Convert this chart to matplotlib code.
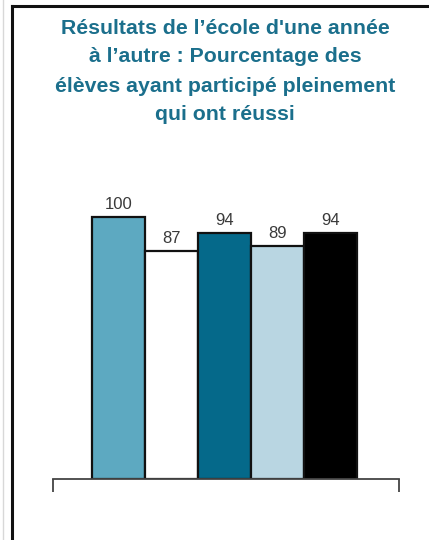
import matplotlib
matplotlib.use("Agg")
import matplotlib.pyplot as plt
from matplotlib.lines import Line2D

plt.rcParams['font.family'] = ['Liberation Sans', 'DejaVu Sans']

title_lines = ["Résultats de l’école d'une année",
               "à l’autre : Pourcentage des",
               "élèves ayant participé pleinement",
               "qui ont réussi"]
values = [100, 87, 94, 89, 94]
bar_colors = ['#5da9c1', '#ffffff', '#05698a', '#b9d6e2', '#000000']

W, H = 429, 540
fig = plt.figure(figsize=(W / 100, H / 100), dpi=100)

# frame lines (left and top) plus the faint outer rule
fig.add_artist(Line2D([11.5 / W, 11.5 / W], [0, 1 - 5.5 / H], color='#111111', lw=2.2))
fig.add_artist(Line2D([11.5 / W, 1], [1 - 5.5 / H, 1 - 5.5 / H], color='#111111', lw=2.2))
fig.add_artist(Line2D([3 / W, 3 / W], [0, 1], color='#d8d8d8', lw=1))

# title, one line at a time
title_y = [29, 57, 86, 114]
for line, y in zip(title_lines, title_y):
    fig.text(225 / W, 1 - y / H, line, ha='center', va='center',
             fontsize=15.3, fontweight='bold', color='#1b6f8c')

ax = fig.add_axes([53 / W, (H - 479) / H, (399 - 53) / W, (479 - 160) / H])
x = list(range(len(values)))
bars = ax.bar(x, values, width=1.0, color=bar_colors, edgecolor='#111111', linewidth=1.6)

for xi, v in zip(x, values):
    ax.text(xi, v + 2.0, str(v), ha='center', va='bottom', fontsize=12, color='#3a3a3a')

xmin, xmax = -1.229, 5.29
ax.set_xlim(xmin, xmax)
ax.set_ylim(0, 121.8)
for s in ['top', 'right', 'left']:
    ax.spines[s].set_visible(False)
ax.spines['bottom'].set_color('#444444')
ax.spines['bottom'].set_linewidth(1.3)
ax.set_yticks([])
ax.set_xticks([xmin, xmax])
ax.tick_params(axis='x', length=9, width=1.3, color='#444444', direction='out', labelbottom=False)
ax.patch.set_alpha(0)

fig.savefig("out.png", dpi=100)
